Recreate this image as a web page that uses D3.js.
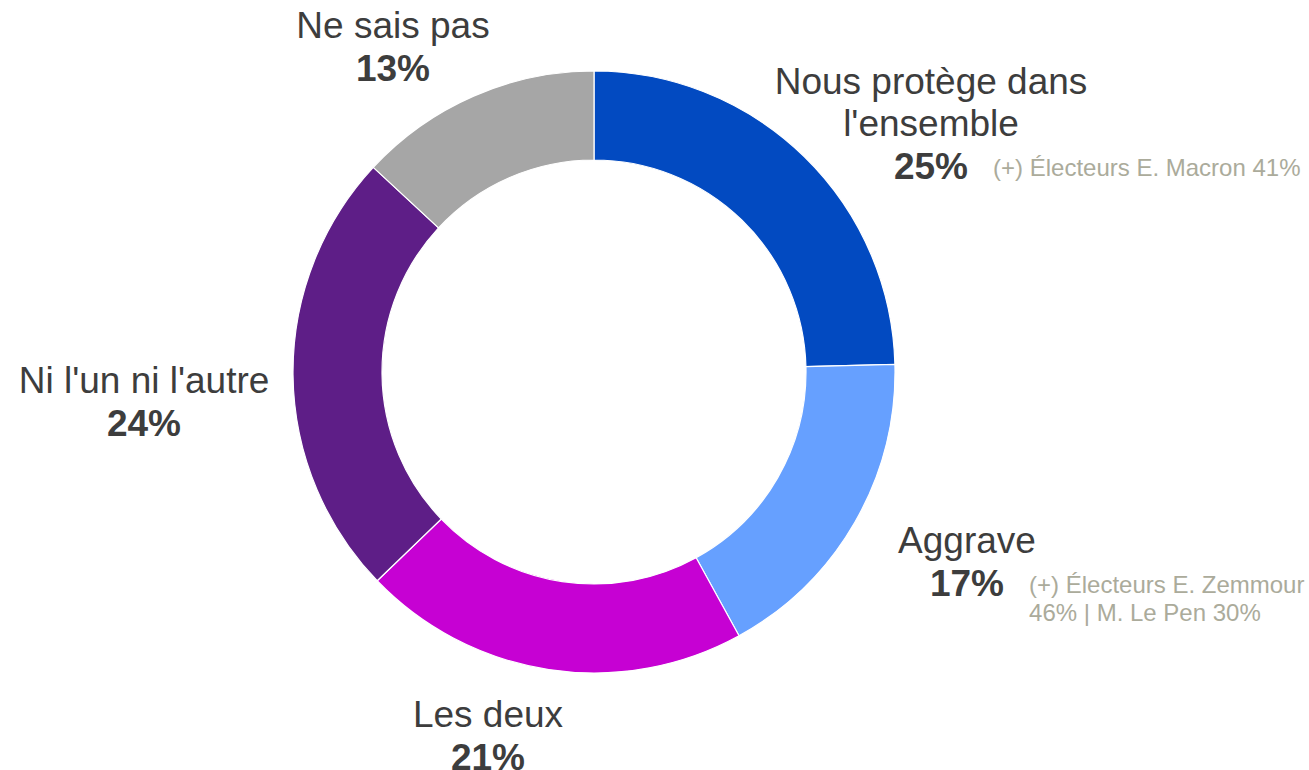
<!DOCTYPE html>
<html>
<head>
<meta charset="utf-8">
<script src="https://cdn.jsdelivr.net/npm/d3@7"></script>
<style>
  body { margin: 0; background: #fff; }
  svg text { font-family: "Liberation Sans", Arial, sans-serif; }
</style>
</head>
<body>
<svg id="chart"></svg>
<script>
// Data (clockwise from 12 o'clock)
const categories = ["Nous protège dans l'ensemble", "Aggrave", "Les deux", "Ni l'un ni l'autre", "Ne sais pas"];
const values = [24.6, 17.4, 20.8, 24.1, 13.1];
const pctLabels = ["25%", "17%", "21%", "24%", "13%"];
const labelLines = [["Nous protège dans", "l'ensemble"], ["Aggrave"], ["Les deux"], ["Ni l'un ni l'autre"], ["Ne sais pas"]];
const notes = [["(+) Électeurs E. Macron 41%"], ["(+) Électeurs E. Zemmour", "46% | M. Le Pen 30%"], [], [], []];
const colors = ["#024AC1", "#66A0FF", "#C601D3", "#5E1E87", "#A6A6A6"];

// Layout
const config = {
  width: 1309, height: 770,
  cx: 594, cy: 372,
  outerRadius: 301, innerRadius: 212,
  lineHeight: 42,
  // label block anchor (centre x, first baseline) relative to the chart centre
  labelOffsets: [[337, -278], [373, 181], [-106, 355], [-450, 21], [-201, -334]]
};

const svg = d3.select("#chart")
  .attr("width", config.width)
  .attr("height", config.height);

const chart = svg.append("g")
  .attr("transform", `translate(${config.cx},${config.cy})`);

const data = categories.map((c, i) => ({
  name: c, value: values[i], pct: pctLabels[i],
  lines: labelLines[i], note: notes[i], color: colors[i]
}));

const pie = d3.pie().sort(null).value(d => d.value);
const arc = d3.arc().innerRadius(config.innerRadius).outerRadius(config.outerRadius);

chart.selectAll(".slice")
  .data(pie(data))
  .join("path")
  .attr("class", "slice")
  .attr("d", arc)
  .attr("fill", d => d.data.color)
  .attr("stroke", "#fff")
  .attr("stroke-width", 1.2);

// Labels
const labels = chart.selectAll(".label")
  .data(data)
  .join("g")
  .attr("class", "label")
  .attr("transform", (d, i) => `translate(${config.labelOffsets[i][0]},${config.labelOffsets[i][1]})`);

labels.each(function (d) {
  const g = d3.select(this);
  d.lines.forEach((line, j) => {
    g.append("text")
      .attr("x", 0)
      .attr("y", j * config.lineHeight)
      .attr("text-anchor", "middle")
      .attr("fill", "#3d3d3d")
      .style("font-size", "37px")
      .text(line);
  });
  const pctY = d.lines.length * config.lineHeight + 1;
  const pct = g.append("text")
    .attr("x", 0)
    .attr("y", pctY)
    .attr("text-anchor", "middle")
    .attr("fill", "#3d3d3d")
    .style("font-size", "37px")
    .style("font-weight", "bold")
    .text(d.pct);

  // side note, placed just after the percentage
  if (d.note.length) {
    const box = pct.node().getBBox();
    d.note.forEach((line, j) => {
      g.append("text")
        .attr("x", box.x + box.width + 25)
        .attr("y", pctY - 3 + j * 28)
        .attr("fill", "#ABAB9B")
        .style("font-size", "24px")
        .text(line);
    });
  }
});
</script>
</body>
</html>
